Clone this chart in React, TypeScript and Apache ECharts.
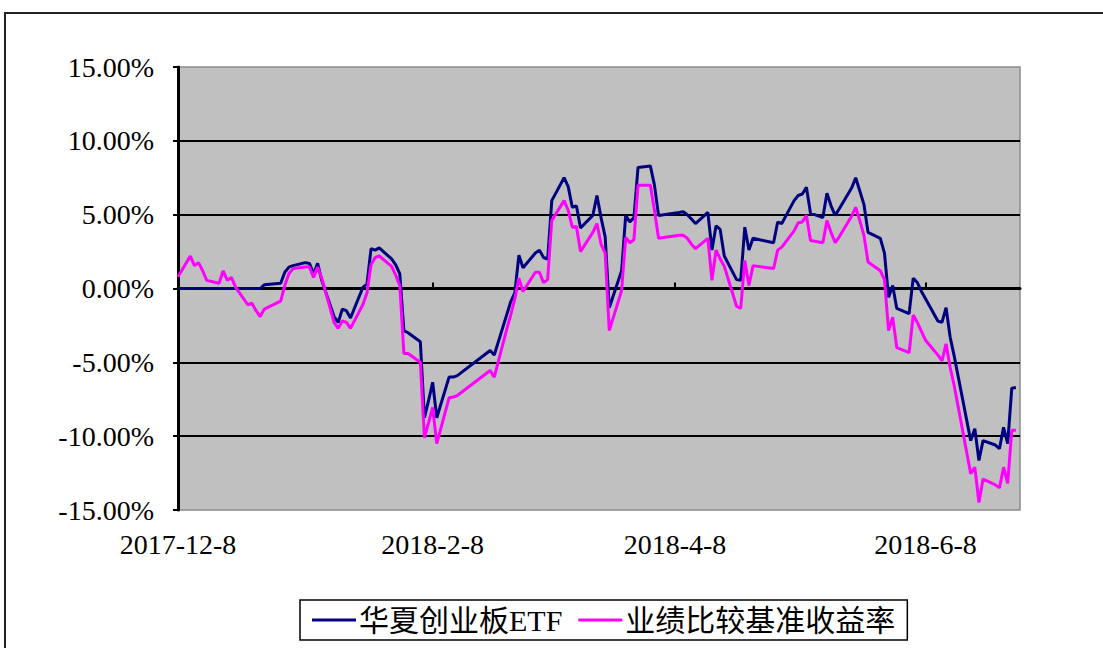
import React, { useEffect, useRef } from "react";
import * as echarts from "echarts";

// Trading dates (the last one is the half-year end NAV date)
const dates: string[] = [
  "2017-12-08","2017-12-11","2017-12-12","2017-12-13","2017-12-14","2017-12-15","2017-12-18","2017-12-19","2017-12-20","2017-12-21","2017-12-22","2017-12-25","2017-12-26","2017-12-27","2017-12-28","2017-12-29",
  "2018-01-02","2018-01-03","2018-01-04","2018-01-05","2018-01-08","2018-01-09","2018-01-10","2018-01-11","2018-01-12","2018-01-15","2018-01-16","2018-01-17","2018-01-18","2018-01-19","2018-01-22","2018-01-23","2018-01-24","2018-01-25","2018-01-26","2018-01-29","2018-01-30","2018-01-31",
  "2018-02-01","2018-02-02","2018-02-05","2018-02-06","2018-02-07","2018-02-08","2018-02-09","2018-02-12","2018-02-13","2018-02-14","2018-02-22","2018-02-23","2018-02-26","2018-02-27","2018-02-28",
  "2018-03-01","2018-03-02","2018-03-05","2018-03-06","2018-03-07","2018-03-08","2018-03-09","2018-03-12","2018-03-13","2018-03-14","2018-03-15","2018-03-16","2018-03-19","2018-03-20","2018-03-21","2018-03-22","2018-03-23","2018-03-26","2018-03-27","2018-03-28","2018-03-29","2018-03-30",
  "2018-04-02","2018-04-03","2018-04-04","2018-04-09","2018-04-10","2018-04-11","2018-04-12","2018-04-13","2018-04-16","2018-04-17","2018-04-18","2018-04-19","2018-04-20","2018-04-23","2018-04-24","2018-04-25","2018-04-26","2018-04-27",
  "2018-05-02","2018-05-03","2018-05-04","2018-05-07","2018-05-08","2018-05-09","2018-05-10","2018-05-11","2018-05-14","2018-05-15","2018-05-16","2018-05-17","2018-05-18","2018-05-21","2018-05-22","2018-05-23","2018-05-24","2018-05-25","2018-05-28","2018-05-29","2018-05-30","2018-05-31",
  "2018-06-01","2018-06-04","2018-06-05","2018-06-06","2018-06-07","2018-06-08","2018-06-11","2018-06-12","2018-06-13","2018-06-14","2018-06-15","2018-06-19","2018-06-20","2018-06-21","2018-06-22","2018-06-25","2018-06-26","2018-06-27","2018-06-28","2018-06-29","2018-06-30",
];

// 华夏创业板ETF cumulative return (%)
const etfValues: number[] = [
  0, 0, 0, 0, 0, 0, 0, 0, 0, 0, 0, 0, 0, 0, 0, 0.25,
  0.35, 1.1, 1.45, 1.55, 1.75, 1.7, 1.0, 1.7, 0.55, -1.9, -2.3, -1.4, -1.5, -2.0, 0.07, 0.3, 2.7, 2.6, 2.75, 2.0, 1.6, 1.0,
  -2.85, -3.0, -3.6, -8.75, -7.6, -6.35, -8.75, -6.0, -6.0, -5.9, -4.2, -4.5, -1.8, -0.9, -0.3,
  2.25, 1.4, 2.4, 2.6, 2.1, 2.0, 5.95, 7.5, 6.9, 5.5, 5.6, 4.1, 4.95, 6.3, 4.8, 3.5, -1.3, 1.2, 4.95, 4.5, 4.8, 8.2,
  8.3, 7.0, 4.95, 5.15, 5.2, 5.0, 4.7, 4.4, 5.15, 2.6, 4.25, 4.0, 2.2, 0.6, 0.55, 4.15, 2.6, 3.4,
  3.1, 4.5, 4.4, 5.95, 6.3, 6.4, 6.85, 5.1, 4.8, 6.45, 5.6, 4.95, 5.4, 6.8, 7.5, 6.6, 5.7, 3.8, 3.4, 2.4, -0.6, 0.2,
  -1.35, -1.7, 0.7, 0.4, -0.2, -0.7, -2.2, -2.3, -1.3, -3.3, -4.6, -10.3, -9.5, -11.65, -10.3, -10.6, -10.85, -9.4, -10.5, -6.75, -6.7,
];

// 业绩比较基准收益率 (%)
const benchmarkValues: number[] = [
  0.8, 2.2, 1.55, 1.75, 1.2, 0.55, 0.35, 1.2, 0.55, 0.75, 0.1, -1.1, -1.0, -1.5, -1.9, -1.4,
  -0.85, 0.2, 1.0, 1.35, 1.45, 1.45, 0.75, 1.45, 0.7, -2.3, -2.7, -2.2, -2.3, -2.7, -1.1, -0.3, 1.6, 2.1, 2.2, 1.5, 0.9, 0.2,
  -4.4, -4.4, -5.0, -10.1, -9.1, -8.05, -10.5, -7.4, -7.35, -7.25, -5.55, -6.0, -2.8, -1.8, -0.7,
  0.7, -0.2, 1.1, 1.1, 0.4, 0.6, 4.6, 5.95, 5.3, 4.15, 4.2, 2.5, 3.8, 4.4, 3.0, 2.4, -2.85, -0.15, 3.45, 3.1, 3.3, 7.0,
  7.0, 5.3, 3.4, 3.6, 3.6, 3.4, 3.0, 2.7, 3.4, 0.55, 2.6, 2.0, 1.5, -1.2, -1.35, 1.9, 0.2, 1.55,
  1.35, 2.6, 2.8, 3.9, 4.45, 4.5, 4.95, 3.25, 3.1, 4.6, 3.8, 3.1, 3.5, 4.9, 5.5, 4.6, 3.6, 1.8, 1.2, 0.6, -2.85, -1.95,
  -4.0, -4.35, -1.8, -2.3, -2.9, -3.5, -4.5, -4.9, -3.75, -5.35, -6.6, -12.55, -12.1, -14.5, -12.9, -13.3, -13.5, -12.1, -13.2, -9.6, -9.6,
];

const seriesNames: string[] = ["华夏创业板ETF", "业绩比较基准收益率"];
const xTickDates: string[] = ["2017-12-08", "2018-02-08", "2018-04-08", "2018-06-08"];
const xRange: string[] = ["2017-12-08", "2018-07-01"];
const yRange: number[] = [-15, 15, 5];

const ts = (s: string) => {
  const [y, m, d] = s.split("-").map(Number);
  return Date.UTC(y, m - 1, d);
};
const fmtDate = (v: number) => {
  const d = new Date(v);
  return `${d.getUTCFullYear()}-${d.getUTCMonth() + 1}-${d.getUTCDate()}`;
};

const FONT = "'Liberation Serif', 'Noto Sans CJK SC', serif";

export default function App() {
  const ref = useRef<HTMLDivElement>(null);
  useEffect(() => {
    if (!ref.current) return;
    const chart = echarts.init(ref.current, undefined, { renderer: "svg" });
    const xMin = ts(xRange[0]);
    const xMax = ts(xRange[1]);
    const tickVals = xTickDates.map(ts);
    chart.setOption({
      animation: false,
      backgroundColor: "#ffffff",
      graphic: [
        {
          type: "rect",
          shape: { x: 5, y: 13, width: 1200, height: 700 },
          style: { fill: "none", stroke: "#222", lineWidth: 2 },
          silent: true,
        },
      ],
      grid: {
        left: 178,
        top: 67,
        width: 842,
        height: 443,
        show: true,
        backgroundColor: "#c0c0c0",
        borderColor: "#8a8a8a",
        borderWidth: 1.5,
      },
      legend: {
        left: 300,
        top: 600,
        orient: "horizontal",
        icon: "rect",
        itemWidth: 44,
        itemHeight: 3,
        itemGap: 16,
        padding: [5, 12],
        borderColor: "#000",
        borderWidth: 1.5,
        textStyle: { fontFamily: FONT, fontSize: 30, color: "#000", padding: [0, 0, 0, -2] },
        data: seriesNames,
      },
      xAxis: [
        {
          type: "value",
          min: xMin,
          max: xMax,
          position: "bottom",
          axisLine: { show: true, onZero: true, lineStyle: { color: "#000", width: 3 } },
          axisTick: {
            show: true,
            inside: true,
            length: 6,
            customValues: tickVals,
            lineStyle: { color: "#000", width: 2 },
          },
          axisLabel: { show: false },
          splitLine: { show: false },
        },
        {
          type: "value",
          min: xMin,
          max: xMax,
          position: "bottom",
          axisLine: { show: false, onZero: false },
          axisTick: { show: false },
          axisLabel: {
            show: true,
            customValues: tickVals,
            formatter: (v: number) => fmtDate(v),
            fontFamily: FONT,
            fontSize: 28,
            color: "#000",
            margin: 20,
          },
          splitLine: { show: false },
        },
      ],
      yAxis: {
        type: "value",
        min: yRange[0],
        max: yRange[1],
        interval: yRange[2],
        axisLine: { show: true, lineStyle: { color: "#000", width: 3 } },
        axisTick: { show: true, inside: false, length: 5, lineStyle: { color: "#000", width: 2 } },
        axisLabel: {
          formatter: (v: number) => v.toFixed(2) + "%",
          fontFamily: FONT,
          fontSize: 28,
          color: "#000",
          margin: 24,
        },
        splitLine: {
          show: true,
          showMinLine: false,
          showMaxLine: false,
          lineStyle: { color: "#000", width: 2 },
        },
      },
      series: [
        {
          name: seriesNames[0],
          type: "line",
          xAxisIndex: 0,
          symbol: "none",
          color: "#000080",
          lineStyle: { color: "#000080", width: 3 },
          data: dates.map((d, i) => [ts(d), etfValues[i]]),
        },
        {
          name: seriesNames[1],
          type: "line",
          xAxisIndex: 0,
          symbol: "none",
          color: "#ff00ff",
          lineStyle: { color: "#ff00ff", width: 3 },
          data: dates.map((d, i) => [ts(d), benchmarkValues[i]]),
        },
      ],
    });
    return () => chart.dispose();
  }, []);
  return (
    <div
      ref={ref}
      style={{ position: "fixed", left: 0, top: 0, width: 1103, height: 648, background: "#fff" }}
    />
  );
}
